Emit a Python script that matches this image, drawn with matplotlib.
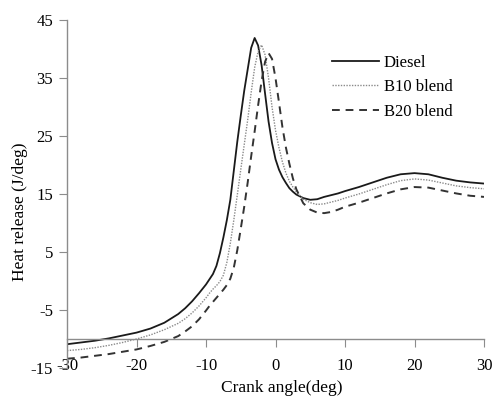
import matplotlib.pyplot as plt

plt.rcParams['font.family'] = 'Liberation Serif'
plt.rcParams['axes.unicode_minus'] = False

# crank angle (deg) and heat release rate (J/deg) for each fuel
crank_angle = [-30, -28, -26, -24, -22, -20, -18, -16, -14,
               -13, -12, -11, -10,
               -9.5, -9, -8.5, -8, -7.5, -7, -6.5, -6, -5.5, -5, -4.5, -4, -3.5,
               -3, -2.5, -2, -1.5, -1, -0.5, 0, 0.5, 1, 1.5, 2, 2.5, 3,
               4, 5, 6, 7, 8, 9, 10,
               12, 14, 16, 18, 20, 22, 24, 26, 28, 30]
diesel = [-10.9, -10.6, -10.3, -9.9, -9.4, -8.9, -8.2, -7.2, -5.7,
          -4.7, -3.5, -2.1, -0.6,
          0.3, 1.2, 2.6, 4.8, 7.5, 10.5, 14.0, 19.0, 24.0, 28.5, 32.8, 36.5, 40.2,
          41.9, 40.6, 37.2, 32.3, 27.5, 23.8, 21.0, 19.2, 17.9, 16.9, 16.0, 15.4, 14.9,
          14.3, 14.0, 14.1, 14.5, 14.8, 15.1, 15.5,
          16.2, 17.0, 17.8, 18.4, 18.6, 18.4, 17.8, 17.3, 17.0, 16.8]
b10 = [-12.0, -11.8, -11.5, -11.1, -10.6, -10.0, -9.3, -8.4, -7.3,
       -6.5, -5.5, -4.3, -2.9,
       -2.1, -1.4, -0.8, -0.1, 1.0, 3.2, 6.5, 10.5, 14.8, 19.2, 23.5, 27.8, 32.5,
       36.8, 39.6, 40.7, 39.0, 35.0, 30.0, 26.0, 23.0, 20.5, 18.6, 17.2, 16.2, 15.4,
       14.1, 13.5, 13.2, 13.3, 13.6, 13.9, 14.3,
       15.0, 15.8, 16.6, 17.3, 17.6, 17.4, 16.9, 16.4, 16.1, 15.9]
b20 = [-13.4, -13.2, -12.9, -12.6, -12.2, -11.8, -11.2, -10.5, -9.5,
       -8.7, -7.8, -6.6, -5.1,
       -4.3, -3.6, -2.9, -2.2, -1.5, -0.7, 0.4, 2.3, 5.3, 9.0, 12.8, 17.0, 21.5,
       25.8, 30.3, 34.5, 37.8, 39.3, 38.3, 35.0, 30.8, 26.5, 23.0, 20.2, 17.7, 15.8,
       13.4, 12.3, 11.8, 11.7, 11.9, 12.3, 12.8,
       13.5, 14.3, 15.1, 15.8, 16.2, 16.1, 15.6, 15.1, 14.7, 14.5]

fig = plt.figure(figsize=(4.94, 3.98), dpi=100)
ax = fig.add_axes([67 / 494, 1 - 368 / 398, (484 - 67) / 494, (368 - 20) / 398])

ax.plot(crank_angle, diesel, color='#1a1a1a', lw=1.3, ls='-', label='Diesel')
ax.plot(crank_angle, b10, color='#8a8a8a', lw=1.0, ls=(0, (1, 1)), label='B10 blend')
ax.plot(crank_angle, b20, color='#333333', lw=1.4, ls=(0, (4, 3)), label='B20 blend')

ax.set_xlim(-30, 30)
ax.set_ylim(-15, 45)
ax.set_xticks(range(-30, 31, 10))
ax.set_yticks(range(-15, 46, 10))

# x axis crosses at -10 like the original spreadsheet chart
ax.spines['bottom'].set_position(('data', -10))
ax.spines['top'].set_visible(False)
ax.spines['right'].set_visible(False)
for s in ('left', 'bottom'):
    ax.spines[s].set_color('#8c8c8c')
    ax.spines[s].set_linewidth(1.0)
ax.tick_params(direction='out', length=6, color='#8c8c8c', labelsize=12)
ax.tick_params(axis='y', pad=4)
ax.tick_params(axis='x', pad=8)

fig.text(20 / 494, 1 - 212 / 398, 'Heat release (J/deg)', rotation=90,
         ha='center', va='center', fontsize=12.5)
fig.text(282 / 494, 1 - 388 / 398, 'Crank angle(deg)', ha='center', va='center',
         fontsize=12.5)

ax.legend(loc='upper left', bbox_to_anchor=(332 / 494, 1 - 55 / 398),
          bbox_transform=fig.transFigure, frameon=False, fontsize=12,
          handlelength=2.8, handletextpad=0.3, labelspacing=0.5,
          borderpad=0, borderaxespad=0)

fig.savefig('out.png', dpi=100)
